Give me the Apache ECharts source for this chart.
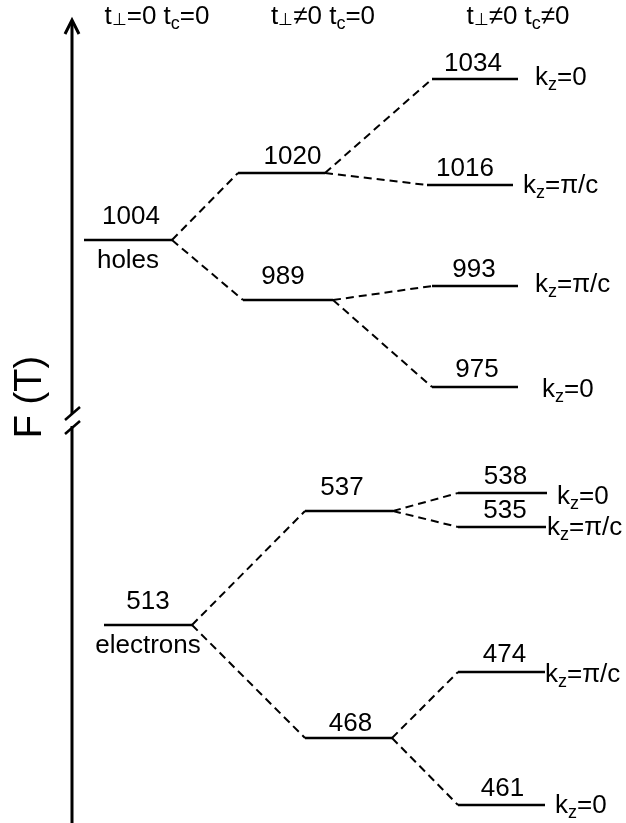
<!DOCTYPE html>
<html><head><meta charset="utf-8">
<script src="https://cdn.jsdelivr.net/npm/echarts@6/dist/echarts.min.js"></script>
<style>html,body{margin:0;padding:0;background:#fff}#c{width:626px;height:823px}</style>
</head><body><div id="c"></div>
<script>
// ---------- data ----------
// header pieces: [text, kind] kind n = normal, p = perp symbol, s = subscript
const columnHeaders = [
  [['t', 'n'], ['⊥', 'p'], ['=0 t', 'n'], ['c', 's'], ['=0', 'n']],
  [['t', 'n'], ['⊥', 'p'], ['≠0 t', 'n'], ['c', 's'], ['=0', 'n']],
  [['t', 'n'], ['⊥', 'p'], ['≠0 t', 'n'], ['c', 's'], ['≠0', 'n']]
];
// Frequencies F (T) of each level (label values)
const levelValues = ['1004', '1020', '989', '1034', '1016', '993', '975',
                     '513', '537', '468', '538', '535', '474', '461'];
// Column of each level (0: t⊥=0 tc=0, 1: t⊥≠0 tc=0, 2: t⊥≠0 tc≠0)
const levelColumn = [0, 1, 1, 2, 2, 2, 2, 0, 1, 1, 2, 2, 2, 2];
// kz assignment (only last column)
const levelKz = ['', '', '', '0', 'π/c', 'π/c', '0', '', '', '', '0', 'π/c', 'π/c', '0'];
// carrier type notes
const levelNote = ['holes', '', '', '', '', '', '', 'electrons', '', '', '', '', '', ''];
// splittings: [parent, child]
const splits = [[0, 1], [0, 2], [1, 3], [1, 4], [2, 5], [2, 6],
                [7, 8], [7, 9], [8, 10], [8, 11], [9, 12], [9, 13]];
const axisTitle = 'F (T)';

// ---------- schematic layout (diagram units) ----------
const levelLeft  = [84, 238, 243, 432, 427, 432, 432, 104, 305, 305, 458, 458, 458, 458];
const levelRight = [172, 325, 333, 518, 513, 518, 518, 192, 393, 392, 547, 546, 545, 545];
const levelPos   = [240, 173, 300, 79, 185, 286, 387, 625, 511, 738, 493, 527, 672, 805];
const labelGap   = [10, 3, 10, 2, 3, 3, 4, 10, 10, 1, 3, 3, 4, 3];
const labelDx    = [3, 11, -5, -2, -5, -1, 2, 0, -7, 2, 3, 3, 3, 1];
const kzGap      = [0, 0, 0, 17, 10, 17, 24, 0, 0, 0, 10, 1, 0, 10];
const kzDy       = [0, 0, 0, -1, 1, -1, 3, 0, 0, 0, 4, 1, 3, 1];
const headerX = [157, 323, 518];

const FONT = '"Liberation Sans", Arial, Helvetica, sans-serif';
const KIND = { n: { size: 26, dy: 0 }, s: { size: 18, dy: 7 }, p: { size: 17, dy: 3 } };
const mctx = document.createElement('canvas').getContext('2d');
function textW(t, size) { mctx.font = size + 'px ' + FONT; return mctx.measureText(t).width; }

// build a row of text pieces (with subscripts) starting at x0 (align left) or centred on x0
function pieceTexts(pieces, x0, y0, align) {
  const widths = pieces.map(p => textW(p[0], KIND[p[1]].size));
  const total = widths.reduce((a, b) => a + b, 0);
  let x = align === 'center' ? x0 - total / 2 : x0;
  return pieces.map((p, k) => {
    const el = { type: 'text', style: { text: p[0], x: x, y: y0 + KIND[p[1]].dy, align: 'left',
      verticalAlign: 'middle', fontSize: KIND[p[1]].size, fontFamily: FONT, fill: '#000' } };
    x += widths[k];
    return el;
  });
}

function renderLevel(params, api) {
  const i = api.value(3);
  const a = api.coord([api.value(0), api.value(1)]);
  const b = api.coord([api.value(2), api.value(1)]);
  let children = [
    { type: 'line', shape: { x1: a[0], y1: a[1], x2: b[0], y2: b[1] },
      style: { stroke: '#000', lineWidth: 2.4 } },
    { type: 'text', style: { text: levelValues[i], x: (a[0] + b[0]) / 2 + labelDx[i], y: a[1] - labelGap[i],
      align: 'center', verticalAlign: 'bottom', fontSize: 26, fontFamily: FONT, fill: '#000' } }
  ];
  if (levelNote[i]) {
    children.push({ type: 'text', style: { text: levelNote[i], x: (a[0] + b[0]) / 2, y: a[1] + 8,
      align: 'center', verticalAlign: 'top', fontSize: 26, fontFamily: FONT, fill: '#000' } });
  }
  if (levelKz[i]) {
    children = children.concat(pieceTexts([['k', 'n'], ['z', 's'], ['=' + levelKz[i], 'n']],
      b[0] + kzGap[i], a[1] + kzDy[i], 'left'));
  }
  return { type: 'group', children: children };
}

function renderSplit(params, api) {
  const a = api.coord([api.value(0), api.value(1)]);
  const b = api.coord([api.value(2), api.value(3)]);
  return { type: 'line', shape: { x1: a[0], y1: a[1], x2: b[0], y2: b[1] },
    style: { stroke: '#000', lineWidth: 2, lineDash: [8, 5] } };
}

const levelData = levelValues.map((v, i) => [levelLeft[i], levelPos[i], levelRight[i], i]);
const splitData = splits.map(([p, c]) => [levelRight[p], levelPos[p], levelLeft[c], levelPos[c]]);

let graphics = [
  // vertical axis arrow with break
  { type: 'line', shape: { x1: 72, y1: 21, x2: 72, y2: 414 }, style: { stroke: '#000', lineWidth: 3 } },
  { type: 'line', shape: { x1: 72, y1: 426, x2: 72, y2: 823 }, style: { stroke: '#000', lineWidth: 3 } },
  { type: 'polyline', shape: { points: [[65, 34], [72, 20], [79, 34]] }, style: { stroke: '#000', lineWidth: 3, fill: null } },
  { type: 'line', shape: { x1: 65, y1: 420, x2: 80, y2: 407 }, style: { stroke: '#000', lineWidth: 2.5 } },
  { type: 'line', shape: { x1: 65, y1: 434, x2: 80, y2: 421 }, style: { stroke: '#000', lineWidth: 2.5 } },
  { type: 'text', x: 31, y: 397, rotation: Math.PI / 2,
    style: { text: axisTitle, align: 'center', verticalAlign: 'middle', fontSize: 38, fontFamily: FONT, fill: '#000' } }
];
columnHeaders.forEach((h, k) => {
  graphics = graphics.concat(pieceTexts(h, headerX[k], 17, 'center'));
});

const chart = echarts.init(document.getElementById('c'), null, { renderer: 'canvas' });
chart.setOption({
  animation: false,
  backgroundColor: '#fff',
  grid: { left: 0, right: 0, top: 0, bottom: 0 },
  xAxis: { type: 'value', min: 0, max: 626, show: false },
  yAxis: { type: 'value', min: 0, max: 823, inverse: true, show: false },
  series: [
    { type: 'custom', renderItem: renderSplit, data: splitData, silent: true,
      encode: { x: [0, 2], y: [1, 3] }, clip: false },
    { type: 'custom', renderItem: renderLevel, data: levelData, silent: true,
      encode: { x: [0, 2], y: 1 }, clip: false }
  ],
  graphic: graphics
});
</script>
</body></html>
